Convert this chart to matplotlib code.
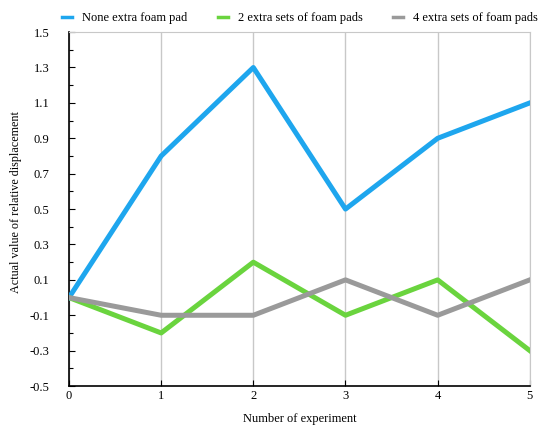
import numpy as np
import matplotlib; matplotlib.use("Agg")
import matplotlib.pyplot as plt

plt.rcParams["font.family"] = ["Liberation Serif", "DejaVu Serif"]

experiments = [0, 1, 2, 3, 4, 5]
none_pad = [0.0, 0.8, 1.3, 0.5, 0.9, 1.1]
two_pads = [0.0, -0.2, 0.2, -0.1, 0.1, -0.3]
four_pads = [0.0, -0.1, -0.1, 0.1, -0.1, 0.1]

fig = plt.figure(figsize=(5.39, 4.28), dpi=100)
ax = fig.add_axes([0.128, 0.098, 0.855, 0.827])

ax.plot(experiments, none_pad, color="#1ea6ee", lw=3.6, label="None extra foam pad", zorder=3)
ax.plot(experiments, two_pads, color="#6ad43e", lw=3.6, label="2 extra sets of foam pads", zorder=3)
ax.plot(experiments, four_pads, color="#9a9a9a", lw=3.6, label="4 extra sets of foam pads", zorder=3)

ax.set_xlim(0, 5); ax.set_ylim(-0.5, 1.5)
ax.set_xticks(experiments)
ax.set_yticks(np.round(np.arange(-0.5, 1.51, 0.2), 1))
ax.set_yticks(np.round(np.arange(-0.5, 1.51, 0.1), 1), minor=True)
ax.set_yticklabels([f"{v:.1f}" for v in np.arange(-0.5, 1.51, 0.2)])
ax.tick_params(axis="both", direction="in", labelsize=9, length=4, width=0.8)
ax.tick_params(axis="y", which="minor", direction="in", length=3, width=0.8)
ax.tick_params(axis="x", pad=2.5)
ax.tick_params(axis="y", pad=14)
ax.xaxis.grid(True, color="#c8c8c8", lw=1.0)
for s in ["top", "right"]:
    ax.spines[s].set_color("#c8c8c8")
for s in ["left", "bottom"]:
    ax.spines[s].set_linewidth(1.2)

ax.set_xlabel("Number of experiment", fontsize=9, labelpad=8)
ax.set_ylabel("Actual value of relative displacement", fontsize=8.7)
ax.yaxis.set_label_coords(-0.102, 0.52)

leg = fig.legend(loc="upper left", bbox_to_anchor=(0.095, 0.998), ncol=3, frameon=False,
                 fontsize=9, handlelength=0.8, handletextpad=0.8, columnspacing=2.4)
for h in leg.legend_handles:
    h.set_linewidth(2.5)

plt.savefig("out.png", dpi=100)
plt.close()
